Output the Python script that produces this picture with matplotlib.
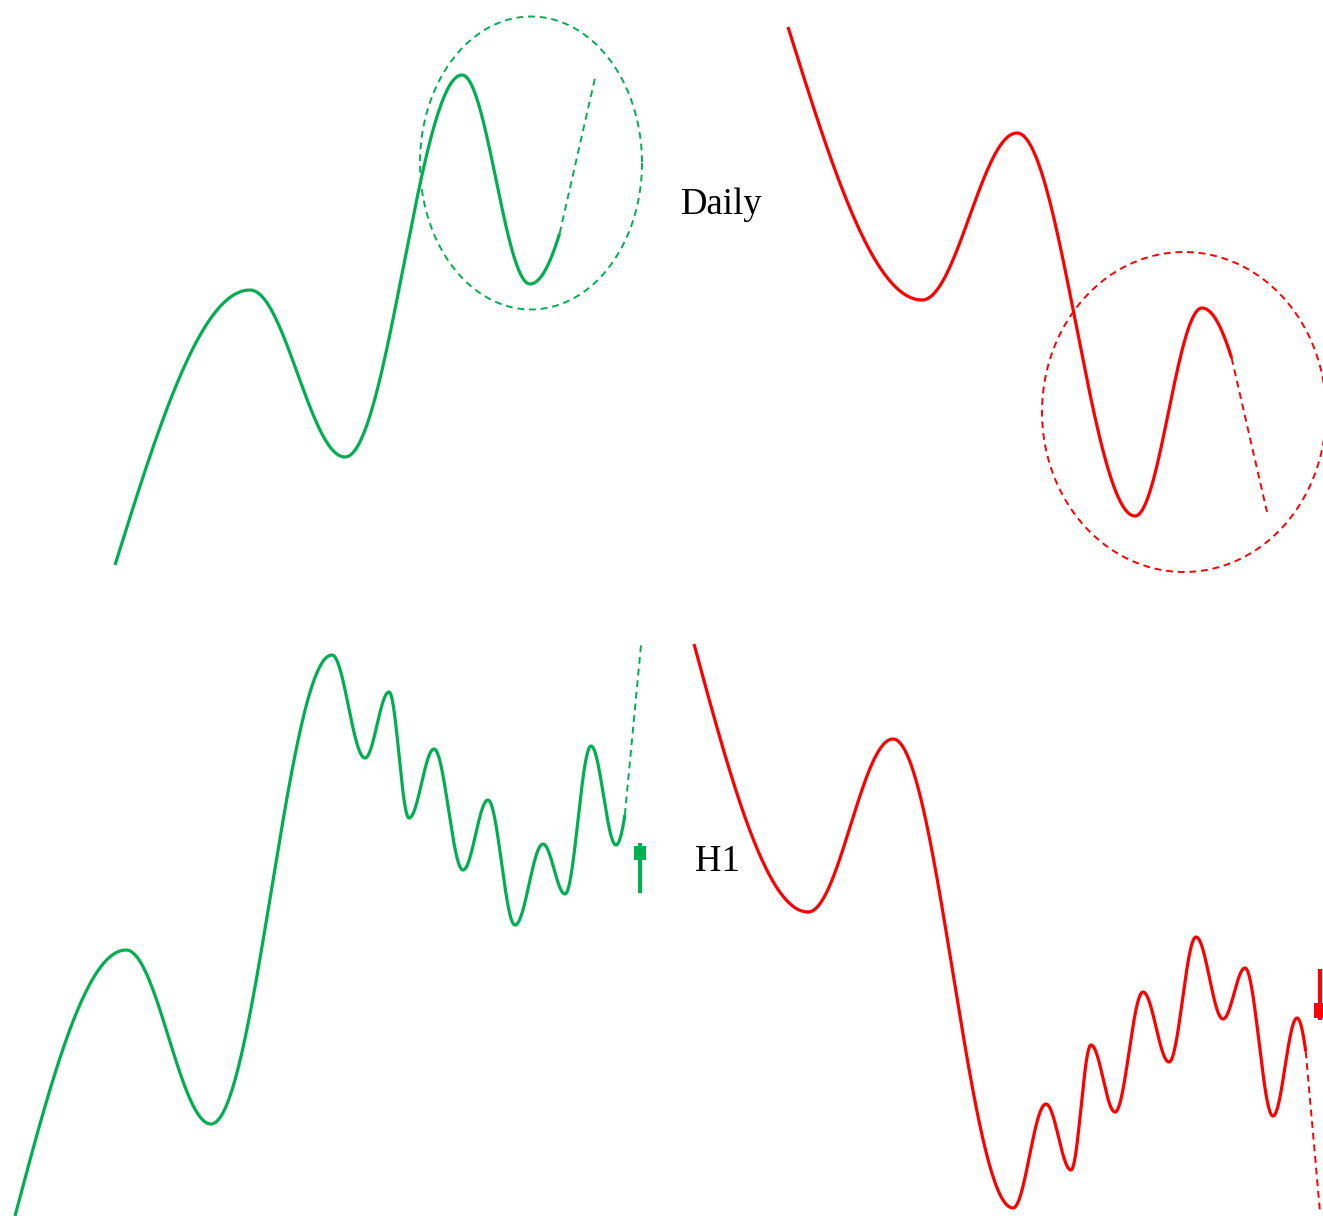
"""
Schematic: multi-timeframe setup, Daily pattern vs H1 pattern (bullish green, bearish red).
Coordinates are in picture units (x right, y down).
"""
import numpy as np
import matplotlib.pyplot as plt

GREEN = "#00b050"
RED = "#ff0000"

# --- pivots of each swing path (start, extrema..., projected end) ---
daily_bull_x = [115, 250, 345, 462, 530, 595]
daily_bull_y = [565, 290, 457, 75, 284, 78]
daily_bull_solid_end = 560

daily_bear_x = [788, 922, 1017, 1135, 1202, 1267]
daily_bear_y = [27, 300, 133, 516, 308, 512]
daily_bear_solid_end = 1232

h1_bull_x = [15, 126, 211, 332, 365, 389, 409, 434, 463, 488, 515, 543, 565, 591, 616, 641]
h1_bull_y = [1216, 950, 1124, 655, 758, 692, 818, 749, 870, 800, 925, 844, 894, 746, 845, 645]
h1_bull_solid_end = 625

h1_bear_x = [694, 808, 893, 1013, 1046, 1071, 1091, 1115, 1143, 1169, 1196, 1223, 1245, 1273, 1297, 1320]
h1_bear_y = [644, 912, 739, 1208, 1104, 1170, 1045, 1112, 992, 1062, 937, 1019, 968, 1116, 1018, 1212]
h1_bear_solid_end = 1306

# highlight ellipses: centre x, centre y, width, height
zone_x = [531, 1184]
zone_y = [163, 412]
zone_w = [222, 284]
zone_h = [293, 320]

# signal candles on H1: x, open, close, high, low
candle_x = [640, 1320]
candle_open = [860, 1018]
candle_close = [846, 1003]
candle_high = [843, 969]
candle_low = [893, 1020]


def wave(xs, ys, n=80):
    """Smooth swing path through the pivots (flat at every extremum)."""
    px, py = [], []
    last = len(xs) - 2
    for i in range(len(xs) - 1):
        t = np.linspace(0, 1, n)
        if i == 0:
            e = np.sin(np.pi * t / 2)
        elif i == last:
            e = 1 - np.cos(np.pi * t / 2)
        else:
            e = (1 - np.cos(np.pi * t)) / 2
        px.append(xs[i] + (xs[i + 1] - xs[i]) * t)
        py.append(ys[i] + (ys[i + 1] - ys[i]) * e)
    return np.concatenate(px), np.concatenate(py)


def draw_path(ax, xs, ys, solid_end, color):
    x, y = wave(xs, ys)
    solid = x <= solid_end
    ax.plot(x[solid], y[solid], color=color, lw=2.3, solid_capstyle="butt")
    k = np.argmax(~solid) - 1
    # projection: straight dashed leg from the end of the solid swing
    ax.plot([x[k], xs[-1]], [y[k], ys[-1]], color=color, lw=1.4, ls=(0, (3.5, 2.5)))


fig = plt.figure(figsize=(13.23, 12.16), dpi=100)
ax = fig.add_axes([0, 0, 1, 1])
ax.set_xlim(0, 1323)
ax.set_ylim(1216, 0)
ax.axis("off")

draw_path(ax, daily_bull_x, daily_bull_y, daily_bull_solid_end, GREEN)
draw_path(ax, daily_bear_x, daily_bear_y, daily_bear_solid_end, RED)
draw_path(ax, h1_bull_x, h1_bull_y, h1_bull_solid_end, GREEN)
draw_path(ax, h1_bear_x, h1_bear_y, h1_bear_solid_end, RED)

th = np.linspace(0, 2 * np.pi, 300)
for cx, cy, w, h, c in zip(zone_x, zone_y, zone_w, zone_h, [GREEN, RED]):
    ax.plot(cx + w / 2 * np.cos(th), cy + h / 2 * np.sin(th),
            color=c, lw=1.4, ls=(0, (3.5, 2.5)))

for x, o, c, hi, lo, col in zip(candle_x, candle_open, candle_close,
                                 candle_high, candle_low, [GREEN, RED]):
    ax.vlines(x, hi, lo, color=col, lw=3)
    ax.bar(x, c - o, bottom=o, width=12, color=col)

ax.text(681, 205, "Daily", fontsize=26.5, family="Liberation Serif",
        ha="left", va="center")
ax.text(695, 862, "H1", fontsize=26.5, family="Liberation Serif",
        ha="left", va="center")

fig.savefig("out.png", dpi=100)
